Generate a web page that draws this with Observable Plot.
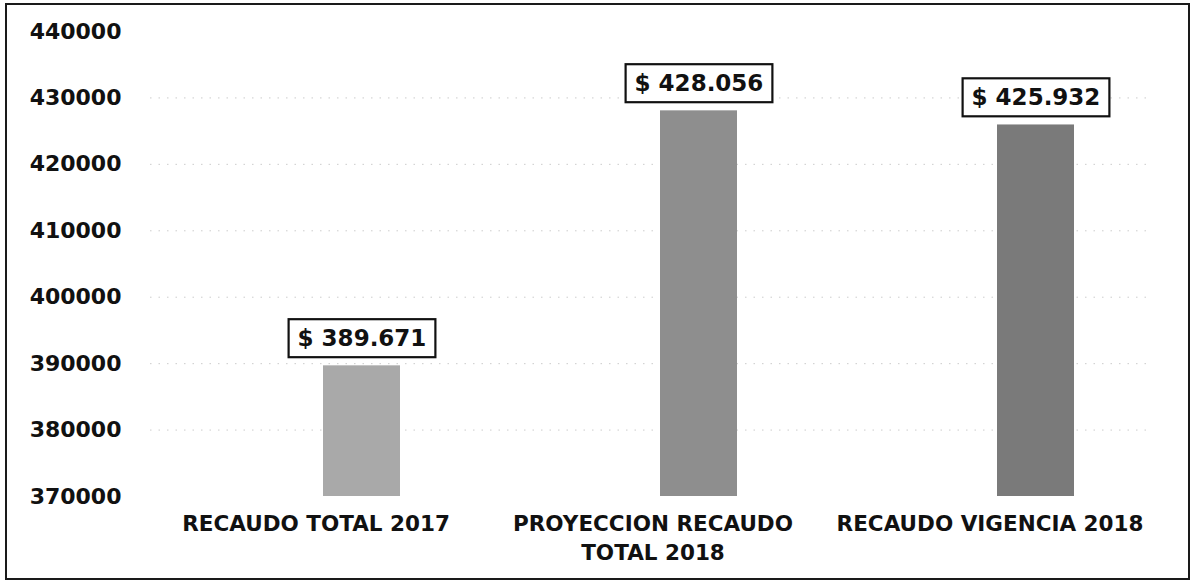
<!DOCTYPE html>
<html>
<head>
<meta charset="utf-8">
<script src="https://cdn.jsdelivr.net/npm/d3@7"></script>
<script src="https://cdn.jsdelivr.net/npm/@observablehq/plot@0.6"></script>
<style>
  html, body { margin: 0; padding: 0; background: #fff; }
  #wrap { position: relative; width: 1190px; height: 585px; overflow: hidden; }
  #border { position: absolute; left: 5px; top: 3px; width: 1185px; height: 577px; box-sizing: border-box; border: 2px solid #1a1a1a; pointer-events: none; }
  #chart svg { display: block; }
</style>
</head>
<body>
<div id="wrap">
  <div id="chart"></div>
  <div id="border"></div>
</div>
<script>
// ---- data ----
const categories = ["RECAUDO TOTAL 2017", "PROYECCION RECAUDO\nTOTAL 2018", "RECAUDO VIGENCIA 2018"];
const values = [389671, 428056, 425932];
const yTicks = [370000, 380000, 390000, 400000, 410000, 420000, 430000, 440000];
const gridTicks = [380000, 390000, 400000, 410000, 420000, 430000];
const yDomain = [370000, 440000];
const barColors = ["#a9a9a9", "#8e8e8e", "#7a7a7a"];

const rows = categories.map((c, i) => ({category: c, value: values[i]}));

const locale = d3.formatLocale({decimal: ",", thousands: ".", grouping: [3], currency: ["$", ""]});
const fmtNum = locale.format(",d");
const fmtLabel = v => "$ " + fmtNum(v);

const font = "'DejaVu Sans', sans-serif";

const chart = Plot.plot({
  width: 1190,
  height: 585,
  marginTop: 31,
  marginBottom: 89,
  marginLeft: 150,
  marginRight: 40,
  style: {fontFamily: font, fontWeight: "bold", fontSize: "21px", color: "#111", background: "transparent"},
  x: {domain: categories, paddingInner: 0.772, paddingOuter: 0.3675, align: 0.696, axis: null},
  y: {domain: yDomain, axis: null},
  color: {domain: categories, range: barColors},
  marks: [
    Plot.gridY(gridTicks, {stroke: "#aaa", strokeOpacity: 0.6, strokeDasharray: "1.5,7"}),
    Plot.axisY({ticks: yTicks, tickFormat: d3.format("d"), tickSize: 0, tickPadding: 29, label: null, fontSize: 22, fontWeight: "bold"}),
    Plot.axisX({domain: categories, tickSize: 0, tickPadding: 13, label: null, dx: -46, lineHeight: 1.38, fontSize: 21.5, fontWeight: "bold"}),
    Plot.barY(rows, {x: "category", y1: () => yDomain[0], y2: "value", fill: "category"}),
    Plot.text(rows, {x: "category", y: "value", text: d => fmtLabel(d.value), dy: -27, lineAnchor: "middle", fontSize: 23, fontWeight: "bold", fill: "#111", className: "vlabel"})
  ]
});

document.getElementById("chart").appendChild(chart);

// draw boxes around the value labels, sized from the rendered text
const svgNS = "http://www.w3.org/2000/svg";
chart.querySelectorAll(".vlabel text").forEach(t => {
  const bb = t.getBBox();
  const padX = 9, padY = 6;
  const r = document.createElementNS(svgNS, "rect");
  r.setAttribute("x", bb.x - padX);
  r.setAttribute("y", bb.y - padY);
  r.setAttribute("width", bb.width + 2 * padX);
  r.setAttribute("height", bb.height + 2 * padY);
  r.setAttribute("fill", "#fff");
  r.setAttribute("stroke", "#111");
  r.setAttribute("stroke-width", 2.2);
  const tr = t.getAttribute("transform");
  if (tr) r.setAttribute("transform", tr);
  t.parentNode.insertBefore(r, t);
});
</script>
</body>
</html>
